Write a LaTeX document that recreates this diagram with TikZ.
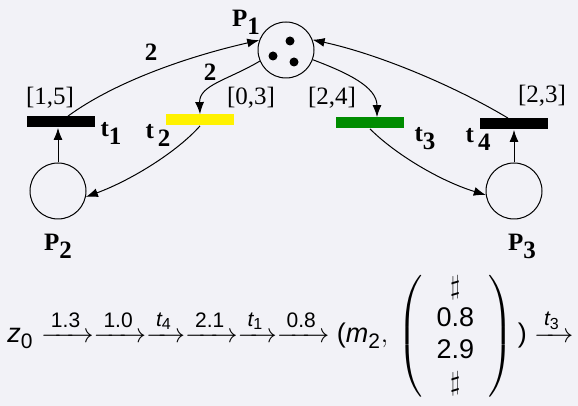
\documentclass[tikz,border=0pt]{standalone}
\usepackage{fix-cm}
\usepackage{amsmath}
\usepackage[no-math]{fontspec}
\setmainfont{Liberation Serif}
\newfontfamily\runfont{Liberation Sans}
\usetikzlibrary{arrows.meta}
\DeclareMathSizes{13.5}{13.5}{10.5}{8}

\definecolor{bgpage}{RGB}{242,242,247}
\definecolor{tgreen}{RGB}{0,140,0}

\newcommand\plab[2]{\textbf{#1}\raisebox{-4pt}{\textbf{#2}}}
\newcommand\sv[1]{\text{\runfont\itshape #1}}
\newcommand\sd[1]{\text{\runfont #1}}
\newcommand\tstep[1]{\xrightarrow{\mkern3mu #1\mkern3mu}}

\begin{document}
\begin{tikzpicture}[x=0.5pt,y=0.5pt,font=\fontsize{12.5}{15}\selectfont,
  place/.style={circle,draw,line width=0.5pt,minimum size=28pt,inner sep=0pt},
  bar/.style={rectangle,fill=black,minimum width=34pt,minimum height=5.5pt,inner sep=0pt},
  arc/.style={-{Latex[length=6pt,width=4.5pt]},line width=0.5pt},
  lbl/.style={inner sep=0pt}]
  \fill[bgpage] (0,0) rectangle (578,406);
  \useasboundingbox (0,0) rectangle (578,406);
  % places
  \node[place] (p1) at (286,356) {};
  \node[place] (p2) at (58,215) {};
  \node[place] (p3) at (514,215) {};
  \fill (290,365) circle (4.5) (273,350) circle (4.5) (294,344) circle (4.5);
  \node[lbl] (lp1) at (246,384) {\plab{P}{1}};
  \node[lbl] (lp2) at (58,160) {\plab{P}{2}};
  \node[lbl] (lp3) at (522,160) {\plab{P}{3}};
  % transitions
  \node[bar] (t1) at (61,284) {};
  \node[bar,fill=yellow] (t2) at (200,286) {};
  \node[bar,fill=tgreen] (t3) at (370,283) {};
  \node[bar] (t4) at (514,282) {};
  \node[lbl] (lt1) at (111,273) {\plab{t}{1}};
  \node[lbl] (lt2) at (158,271) {\plab{t\,}{2}};
  \node[lbl] (lt3) at (425,267) {\plab{t}{3}};
  \node[lbl] (lt4) at (478,267) {\plab{t\,}{4}};
  \node[lbl] (i1) at (50,308) {[1,5]};
  \node[lbl] (i2) at (251,308) {[0,3]};
  \node[lbl] (i3) at (332,308) {[2,4]};
  \node[lbl] (i4) at (542,310) {[2,3]};
  % arcs
  \draw[arc] ([xshift=3.5pt]t1.north) .. controls (116,325) and (190,350) .. (p1.160);
  \draw[arc] (p1.203) .. controls (228,326) and (199,321) .. (t2.north);
  \draw[arc] (t2.south) .. controls (178,255) and (132,226) .. (p2.-12);
  \draw[arc] (p2.north) -- (p2.north |- t1.south);
  \draw[arc] (p1.-20) .. controls (348,333) and (377,319) .. ([xshift=3.5pt]t3.north);
  \draw[arc] (t3.south) .. controls (395,252) and (440,225) .. (p3.188);
  \draw[arc] (p3.north) -- (t4.south);
  \draw[arc] ([xshift=-3pt]t4.north) .. controls (458,318) and (382,351) .. (p1.21);
  \node[lbl] (w1) at (151,354) {\textbf{2}};
  \node[lbl] (w2) at (210,334) {\textbf{2}};
  % run
  \node[anchor=base west,inner sep=0pt,font=\fontsize{13.5}{16}\selectfont] (trace) at (7,63) {$\sv{z}_{\sd{0}}
    \tstep{\sd{1.3}}\tstep{\sd{1.0}}\tstep{\sv{t}_{\sd{4}}}
    \tstep{\sd{2.1}}\tstep{\sv{t}_{\sd{1}}}\tstep{\sd{0.8}}
    \sd{(}\sv{m}_{\sd{2}},\,\left(\begin{array}{@{\hspace{7pt}}c@{\hspace{7pt}}}\sharp\\ \sd{0.8}\\ \sd{2.9}\\ \sharp\end{array}\right)\sd{)}
    \tstep{\sv{t}_{\sd{3}}}$};
\end{tikzpicture}
\end{document}
